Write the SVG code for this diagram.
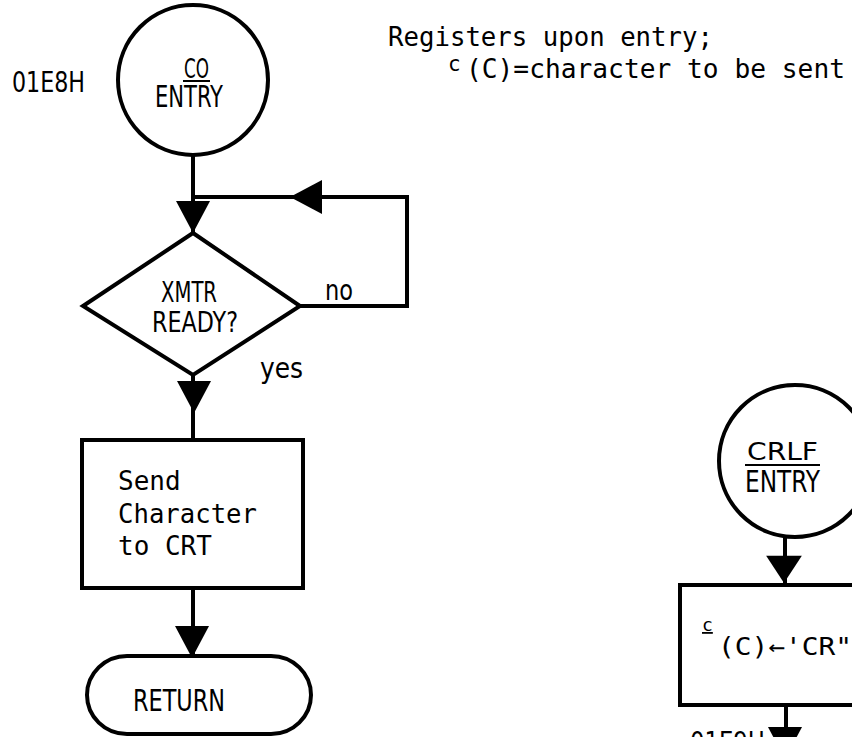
<svg xmlns="http://www.w3.org/2000/svg" width="852" height="737" viewBox="0 0 852 737">
<style>
.ln{fill:none;stroke:#000;stroke-width:4;stroke-linejoin:miter}
.sh{fill:#fff;stroke:#000;stroke-width:4}
.lbl{font-family:"DejaVu Sans Condensed","DejaVu Sans",sans-serif;font-size:28px;fill:#000}
.mono{font-family:"DejaVu Sans Mono","Liberation Mono",monospace;font-size:26px;fill:#000}
.ah{fill:#000}
</style>
<defs>
<polygon id="arr" class="ah" points="-17,-32 17,-32 0,0"/>
</defs>
<rect width="852" height="737" fill="#fff"/>

<g id="connectors">
<path class="ln" d="M193,155 V233"/>
<path class="ln" d="M300,306 H407 V197 H193"/>
<path class="ln" d="M193,375 V440"/>
<path class="ln" d="M193,588 V656"/>
<path class="ln" d="M785,537 V585"/>
<path class="ln" d="M786,705 V737"/>
<use href="#arr" transform="translate(193,233)"/>
<use href="#arr" transform="translate(290,197) rotate(90)"/>
<use href="#arr" transform="translate(194,413)"/>
<use href="#arr" transform="translate(192,658)"/>
<use href="#arr" transform="translate(784,583) scale(1.05,0.85)"/>
<use href="#arr" transform="translate(785,759)"/>
<text class="lbl" x="325" y="300" textLength="28" lengthAdjust="spacingAndGlyphs">no</text>
<text class="lbl" x="260" y="378" textLength="43" lengthAdjust="spacingAndGlyphs">yes</text>
</g>

<g id="note">
<text class="mono" x="388" y="46" textLength="325" lengthAdjust="spacingAndGlyphs">Registers upon entry;</text>
<text class="mono" x="448" y="71" style="font-size:21px">c</text>
<text class="mono" x="466" y="78" textLength="379" lengthAdjust="spacingAndGlyphs">(C)=character to be sent</text>
</g>

<g id="n_co_entry">
<circle class="sh" cx="193" cy="80" r="75"/>
<text class="lbl" x="184" y="78" textLength="25" lengthAdjust="spacingAndGlyphs" style="font-size:26px">CO</text>
<path class="ln" d="M183,81 H210" style="stroke-width:2"/>
<text class="lbl" x="155" y="107" textLength="68" lengthAdjust="spacingAndGlyphs" style="font-size:30px">ENTRY</text>
<text class="lbl" x="12" y="92" textLength="73" lengthAdjust="spacingAndGlyphs">01E8H</text>
</g>

<g id="n_xmtr_ready">
<polygon class="sh" points="193,233 300,306 193,375 83,306"/>
<text class="lbl" x="161" y="302" textLength="56" lengthAdjust="spacingAndGlyphs">XMTR</text>
<text class="lbl" x="152" y="332" textLength="86" lengthAdjust="spacingAndGlyphs">READY?</text>
</g>

<g id="n_send">
<rect class="sh" x="82" y="440" width="221" height="148"/>
<text class="mono" x="118" y="490">Send</text>
<text class="mono" x="118" y="523" textLength="139" lengthAdjust="spacingAndGlyphs">Character</text>
<text class="mono" x="118" y="555">to CRT</text>
</g>

<g id="n_return">
<rect class="sh" x="87" y="656" width="224" height="78" rx="40" ry="39"/>
<text class="lbl" x="133" y="711" textLength="92" lengthAdjust="spacingAndGlyphs" style="font-size:31px">RETURN</text>
</g>

<g id="n_crlf_entry">
<circle class="sh" cx="795" cy="461" r="76"/>
<text class="lbl" x="747" y="460" textLength="71" lengthAdjust="spacingAndGlyphs" style="font-size:25px">CRLF</text>
<path class="ln" d="M745,465 H820" style="stroke-width:2"/>
<text class="lbl" x="745" y="492" textLength="75" lengthAdjust="spacingAndGlyphs" style="font-size:30px">ENTRY</text>
</g>

<g id="n_set_cr">
<rect class="sh" x="680" y="585" width="220" height="120"/>
<text class="mono" x="702" y="631" style="font-size:18px;text-decoration:underline">c</text>
<text class="mono" x="718" y="655" textLength="134" lengthAdjust="spacingAndGlyphs" style="font-size:24px">(C)←'CR"</text>
<text class="lbl" x="690" y="752" textLength="75" lengthAdjust="spacingAndGlyphs">01E9H</text>
</g>
</svg>
